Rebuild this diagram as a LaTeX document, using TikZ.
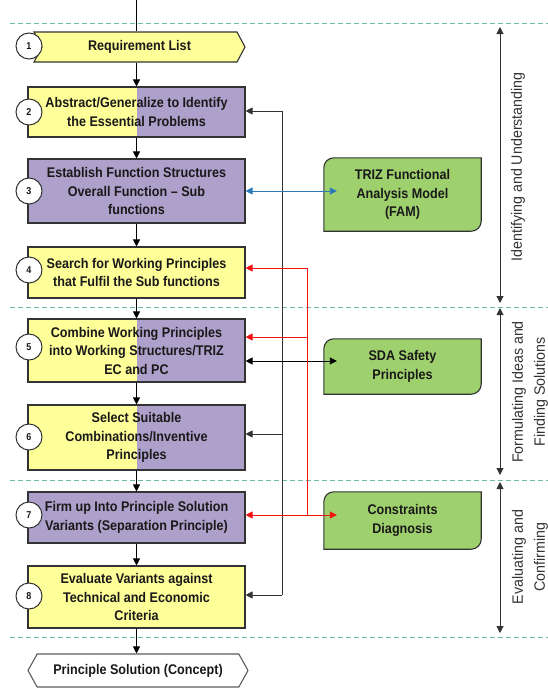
\documentclass[tikz,border=0pt]{standalone}
\usepackage{fontspec}
\setmainfont{Liberation Sans}
\newfontfamily\boxfont[FakeStretch=0.9,Ligatures=TeX]{Liberation Sans}
\newfontfamily\phasefont[FakeStretch=0.95]{Liberation Sans}
\usetikzlibrary{shapes.symbols,arrows.meta,backgrounds}

\definecolor{stepyellow}{HTML}{FFFF99}
\definecolor{steppurple}{HTML}{ADA0CA}
\definecolor{toolgreen}{HTML}{9FD06E}
\definecolor{edgegray}{HTML}{333333}
\definecolor{phaseline}{HTML}{6DB9A9}
\definecolor{linkred}{HTML}{EE1111}
\definecolor{linkblue}{HTML}{2A7AB8}

% green tool box: rounded top-left and bottom-right corners
\newcommand\toolframe[1]{%
  \begin{scope}[on background layer]
    \filldraw[fill=toolgreen,draw=edgegray,line width=1.1pt]
      (#1.west) [rounded corners=10pt] -- (#1.north west) -- (#1.north)
      [sharp corners] -- (#1.north east) -- (#1.east)
      [rounded corners=10pt] -- (#1.south east) -- (#1.south)
      [sharp corners] -- (#1.south west) -- cycle;
  \end{scope}}

\begin{document}
\begin{tikzpicture}[x=1pt,y=-1pt,
  every node/.style={font=\boxfont\bfseries\fontsize{14}{18.5}\selectfont, text=black!90},
  stepbox/.style={draw=edgegray, line width=1.1pt, minimum width=217pt, inner sep=0pt, align=center},
  yellowbox/.style={stepbox, fill=stepyellow},
  purplebox/.style={stepbox, fill=steppurple},
  halfbox/.style={stepbox, fill=steppurple,
    path picture={\fill[stepyellow] (path picture bounding box.south west) rectangle (path picture bounding box.north);}},
  startbox/.style={shape=signal, signal to=east, signal from=west, signal pointer angle=124,
    draw=edgegray, line width=1.1pt, fill=stepyellow, inner sep=0pt},
  endbox/.style={shape=signal, signal to=east and west, signal pointer angle=122,
    draw=edgegray!80, line width=1.1pt, fill=white, inner sep=0pt},
  numcircle/.style={circle, draw=edgegray, fill=white, line width=1pt, minimum size=26pt, inner sep=0pt,
    font=\boxfont\bfseries\fontsize{10}{12}\selectfont},
  toolbox/.style={minimum width=157pt, inner sep=0pt, align=center},
  tip/.style={-{Triangle[length=7pt,width=7pt]}},
  bothtip/.style={{Triangle[length=7pt,width=7pt]}-{Triangle[length=7pt,width=7pt]}},
  flow/.style={draw=black, line width=0.9pt, tip},
  back/.style={draw=edgegray, line width=0.9pt},
  redlink/.style={draw=linkred, line width=0.9pt},
  bluelink/.style={draw=linkblue, line width=0.9pt},
  phasearrow/.style={draw=edgegray, line width=1pt, bothtip},
  phasesep/.style={draw=phaseline, line width=0.8pt, dash pattern=on 5pt off 3pt},
  phaselabel/.style={rotate=90, align=center, font=\phasefont\fontsize{15}{22}\selectfont, text=black!80}
]
\useasboundingbox (0,0) rectangle (548,688);

% phase separators
\draw[phasesep] (10,23) -- (548,23);
\draw[phasesep] (10,307) -- (548,307);
\draw[phasesep] (10,480) -- (548,480);
\draw[phasesep] (10,637) -- (548,637);

% process steps
\node[startbox, minimum width=211pt, minimum height=30pt] (n1) at (139.5,47) {Requirement List};
\node[halfbox, minimum height=50pt] (n2) at (136.5,112) {Abstract/Generalize to Identify\\the Essential Problems};
\node[purplebox, minimum height=64pt] (n3) at (136.5,191) {Establish Function Structures\\Overall Function – Sub\\functions};
\node[yellowbox, minimum height=51pt] (n4) at (136.5,272.5) {Search for Working Principles\\that Fulfil the Sub functions};
\node[halfbox, minimum height=63pt] (n5) at (136.5,350.5) {Combine Working Principles\\into Working Structures/TRIZ\\EC and PC};
\node[halfbox, minimum height=65pt] (n6) at (136.5,437.5) {Select Suitable\\Combinations/Inventive\\Principles};
\node[purplebox, minimum height=51pt] (n7) at (136.5,517.5) {Firm up Into Principle Solution\\Variants (Separation Principle)};
\node[yellowbox, minimum height=62pt] (n8) at (136.5,597) {Evaluate Variants against\\Technical and Economic\\Criteria};
\node[endbox, minimum width=220pt, minimum height=33pt] (out) at (138,670.5) {Principle Solution (Concept)};

% step numbers
\node[numcircle] (c1) at (29,46) {1};
\node[numcircle] (c2) at (29,112) {2};
\node[numcircle] (c3) at (29,191) {3};
\node[numcircle] (c4) at (29,270) {4};
\node[numcircle] (c5) at (29,347) {5};
\node[numcircle] (c6) at (29,437) {6};
\node[numcircle] (c7) at (29,515) {7};
\node[numcircle] (c8) at (29,596) {8};

% supporting tools
\node[toolbox, minimum height=73pt] (fam) at (402.5,194.5) {TRIZ Functional\\Analysis Model\\(FAM)};
\node[toolbox, minimum height=55pt] (sda) at (402.5,366.5) {SDA Safety\\Principles};
\node[toolbox, minimum height=57pt] (cd) at (402.5,520.5) {Constraints\\Diagnosis};
\toolframe{fam}
\toolframe{sda}
\toolframe{cd}

% main flow
\coordinate (top) at (136.5,0);
\draw[draw=black, line width=0.9pt] (top) -- (top |- n1.north);
\draw[flow] (n2.north |- n1.south) -- (n2.north);
\draw[flow] (n2.south) -- (n3.north);
\draw[flow] (n3.south) -- (n4.north);
\draw[flow] (n4.south) -- (n5.north);
\draw[flow] (n5.south) -- (n6.north);
\draw[flow] (n6.south) -- (n7.north);
\draw[flow] (n7.south) -- (n8.north);
\draw[flow] (n8.south) -- (n8.south |- out.north);

% black feedback bus
\coordinate (fb2) at (282,111);
\coordinate (fb5) at (282,361);
\coordinate (fb6) at (282,434);
\coordinate (fb8) at (282,595);
\draw[back] (fb2) -- (fb8);
\draw[back, tip] (fb2) -- (fb2 -| n2.east);
\draw[back, tip] (fb6) -- (fb6 -| n6.east);
\draw[back, tip] (fb8) -- (fb8 -| n8.east);
\draw[back, draw=black, bothtip, shorten >=-13pt] (fb5 -| n5.east) -- (fb5 -| sda.west);

% red constraint bus
\coordinate (rd4) at (307,268);
\coordinate (rd5) at (307,337);
\coordinate (rd7) at (307,515);
\draw[redlink] (rd4) -- (rd7);
\draw[redlink, tip] (rd4) -- (rd4 -| n4.east);
\draw[redlink, tip] (rd5) -- (rd5 -| n5.east);
\draw[redlink, bothtip, shorten >=-13pt] (rd7 -| n7.east) -- (rd7 -| cd.west);

% functional analysis link
\draw[bluelink, bothtip, shorten >=-13pt] (n3.east) -- (n3.east -| fam.west);

% phases
\coordinate (p1a) at (500,27);  \coordinate (p1b) at (500,303);
\coordinate (p2a) at (500,308); \coordinate (p2b) at (500,475);
\coordinate (p3a) at (500,482); \coordinate (p3b) at (500,633);
\draw[phasearrow] (p1a) -- (p1b);
\draw[phasearrow] (p2a) -- (p2b);
\draw[phasearrow] (p3a) -- (p3b);
\node[phaselabel] (ph1) at (518,167) {Identifying and Understanding};
\node[phaselabel] (ph2) at (530,392) {Formulating Ideas and\\Finding Solutions};
\node[phaselabel] (ph3) at (530,557) {Evaluating and\\Confirming};
\end{tikzpicture}
\end{document}
